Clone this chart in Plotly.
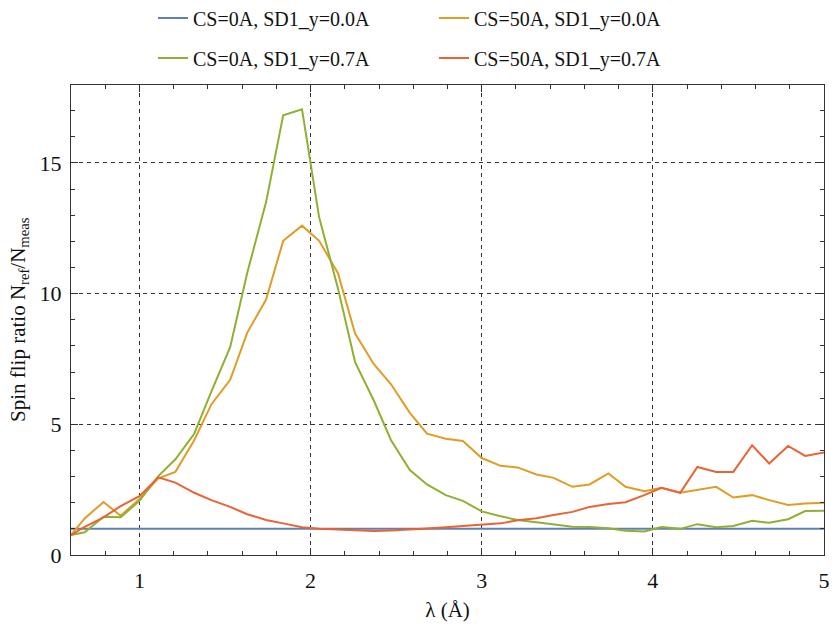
import plotly.graph_objects as go

# Wavelength grid (Å)
lam = [0.6, 0.68, 0.79, 0.89, 1.0, 1.11, 1.21, 1.32, 1.42, 1.53, 1.63, 1.74,
       1.84, 1.95, 2.05, 2.16, 2.26, 2.37, 2.47, 2.58, 2.68, 2.79, 2.89, 3.0,
       3.11, 3.21, 3.32, 3.42, 3.53, 3.63, 3.74, 3.84, 3.95, 4.05, 4.16, 4.26,
       4.37, 4.47, 4.58, 4.68, 4.79, 4.89, 5.0]

# Spin flip ratios N_ref / N_meas
cs0_sd00 = [1.0, 1.0, 1.0, 1.0, 1.0, 1.0, 1.0, 1.0, 1.0, 1.0, 1.0, 1.0,
            1.0, 1.0, 1.0, 1.0, 1.0, 1.0, 1.0, 1.0, 1.0, 1.0, 1.0, 1.0,
            1.0, 1.0, 1.0, 1.0, 1.0, 1.0, 1.0, 1.0, 1.0, 1.0, 1.0, 1.0,
            1.0, 1.0, 1.0, 1.0, 1.0, 1.0, 1.0]
cs50_sd00 = [0.76, 1.40, 2.03, 1.50, 2.14, 2.93, 3.18, 4.39, 5.76, 6.70, 8.51, 9.77,
             12.02, 12.6, 12.02, 10.78, 8.47, 7.30, 6.53, 5.44, 4.64, 4.45, 4.36, 3.71,
             3.41, 3.35, 3.08, 2.95, 2.61, 2.70, 3.12, 2.61, 2.44, 2.57, 2.38, 2.48,
             2.61, 2.20, 2.29, 2.10, 1.91, 1.97, 2.0]
cs0_sd07 = [0.76, 0.87, 1.46, 1.44, 2.07, 3.02, 3.66, 4.64, 6.25, 7.95, 10.8, 13.5,
            16.82, 17.05, 12.92, 10.2, 7.38, 5.9, 4.39, 3.25, 2.70, 2.29, 2.07, 1.67,
            1.48, 1.34, 1.25, 1.17, 1.08, 1.07, 1.02, 0.93, 0.90, 1.07, 1.0, 1.18,
            1.06, 1.11, 1.31, 1.23, 1.37, 1.68, 1.69]
cs50_sd07 = [0.76, 1.08, 1.44, 1.87, 2.25, 2.97, 2.77, 2.38, 2.10, 1.84, 1.56, 1.34,
             1.21, 1.06, 1.0, 0.97, 0.93, 0.92, 0.94, 0.97, 1.01, 1.06, 1.11, 1.16,
             1.21, 1.33, 1.41, 1.53, 1.65, 1.84, 1.95, 2.02, 2.29, 2.57, 2.38, 3.37,
             3.18, 3.18, 4.20, 3.50, 4.17, 3.79, 3.92]

series = [
    ("CS=0A, SD1_y=0.0A", cs0_sd00, "#5e81b5", "legend"),
    ("CS=50A, SD1_y=0.0A", cs50_sd00, "#e19c24", "legend"),
    ("CS=0A, SD1_y=0.7A", cs0_sd07, "#8fb032", "legend2"),
    ("CS=50A, SD1_y=0.7A", cs50_sd07, "#eb6235", "legend2"),
]

FONT = "Liberation Serif"

fig = go.Figure()
for name, vals, color, leg in series:
    fig.add_trace(go.Scatter(
        x=lam, y=vals, mode="lines", name=name,
        line=dict(color=color, width=2), legend=leg,
    ))

axis_common = dict(
    showline=True, linecolor="#333333", linewidth=1, mirror="ticks",
    ticks="inside", ticklen=7, tickcolor="#333333", tickwidth=1,
    showgrid=True, gridcolor="#333333", gridwidth=1, griddash="4px,4px",
    zeroline=False,
    tickfont=dict(family=FONT, size=22, color="#111111"),
)

fig.update_xaxes(
    range=[0.6, 5.0], tickvals=[1, 2, 3, 4, 5], ticktext=["1", "2", "3", "4", "5"],
    minor=dict(ticks="inside", ticklen=4, tickcolor="#333333", dtick=0.2, tick0=0,
               showgrid=False),
    ticklabelstandoff=6,
    title=dict(text="λ (Å)", font=dict(family=FONT, size=21, color="#111111"),
               standoff=9),
    **axis_common,
)
fig.update_yaxes(
    range=[0, 18], tickvals=[0, 5, 10, 15], ticktext=["0", "5", "10", "15"],
    minor=dict(ticks="inside", ticklen=4, tickcolor="#333333", dtick=1, tick0=0,
               showgrid=False),
    ticklabelstandoff=4,
    title=dict(text="Spin flip ratio N<sub>ref</sub>/N<sub>meas</sub>",
               font=dict(family=FONT, size=21, color="#111111"), standoff=8),
    **axis_common,
)

legend_common = dict(
    orientation="h", xref="container", yref="container",
    xanchor="left", yanchor="middle",
    font=dict(family=FONT, size=20, color="#111111"),
    entrywidth=236, entrywidthmode="pixels",
    bgcolor="rgba(0,0,0,0)", itemwidth=30,
)

fig.update_layout(
    width=836, height=627,
    margin=dict(l=71, r=6, t=84, b=72),
    plot_bgcolor="white", paper_bgcolor="white",
    showlegend=True,
    legend=dict(x=153 / 836, y=1 - 18 / 627, **legend_common),
    legend2=dict(x=153 / 836, y=1 - 58 / 627, **legend_common),
)

fig.write_html("out.html")
